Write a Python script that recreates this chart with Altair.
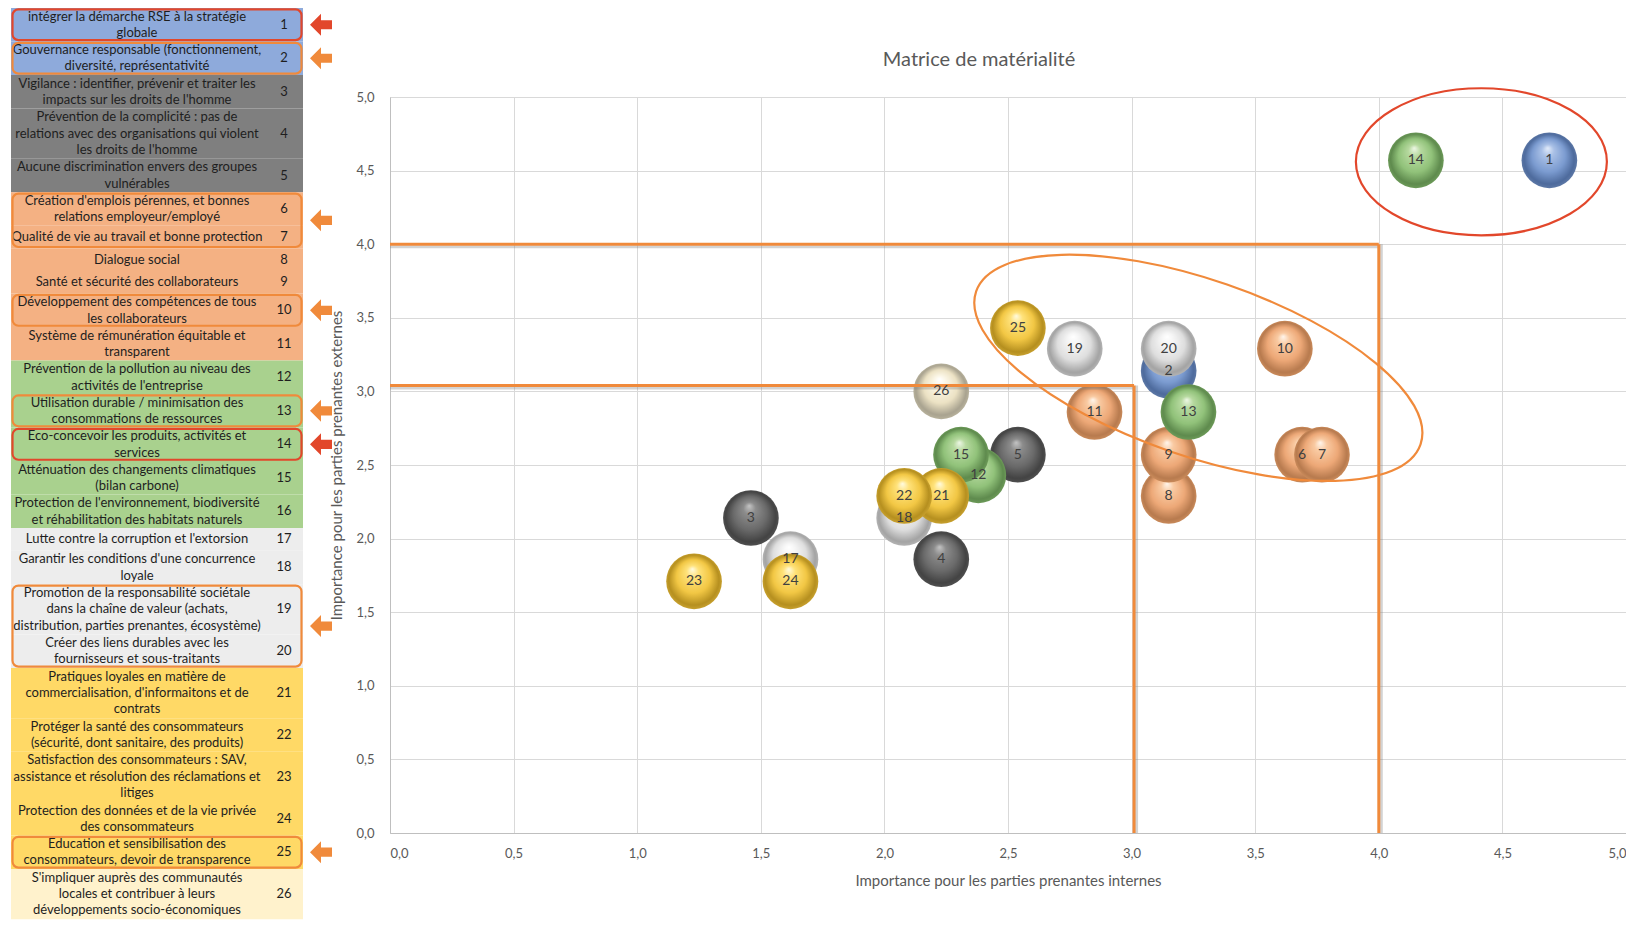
import altair as alt
import pandas as pd

# ------------------------------------------------------------------ data
issue_ids = list(range(1, 27))
issue_labels = [
    "intégrer la démarche RSE à la stratégie\nglobale",
    "Gouvernance responsable (fonctionnement,\ndiversité, représentativité",
    "Vigilance : identifier, prévenir et traiter les\nimpacts sur les droits de l'homme",
    "Prévention de la complicité : pas de\nrelations avec des organisations qui violent\nles droits de l'homme",
    "Aucune discrimination envers des groupes\nvulnérables",
    "Création d'emplois pérennes, et bonnes\nrelations employeur/employé",
    "Qualité de vie au travail et bonne protection",
    "Dialogue social",
    "Santé et sécurité des collaborateurs",
    "Développement des compétences de tous\nles collaborateurs",
    "Système de rémunération équitable et\ntransparent",
    "Prévention de la pollution au niveau des\nactivités de l'entreprise",
    "Utilisation durable / minimisation des\nconsommations de ressources",
    "Eco-concevoir les produits, activités et\nservices",
    "Atténuation des changements climatiques\n(bilan carbone)",
    "Protection de l'environnement, biodiversité\net réhabilitation des habitats naturels",
    "Lutte contre la corruption et l'extorsion",
    "Garantir les conditions d'une concurrence\nloyale",
    "Promotion de la responsabilité sociétale\ndans la chaîne de valeur (achats,\ndistribution, parties prenantes, écosystème)",
    "Créer des liens durables avec les\nfournisseurs et sous-traitants",
    "Pratiques loyales en matière de\ncommercialisation, d'informaitons et de\ncontrats",
    "Protéger la santé des consommateurs\n(sécurité, dont sanitaire, des produits)",
    "Satisfaction des consommateurs : SAV,\nassistance et résolution des réclamations et\nlitiges",
    "Protection des données et de la vie privée\ndes consommateurs",
    "Education et sensibilisation des\nconsommateurs, devoir de transparence",
    "S'impliquer auprès des communautés\nlocales et contribuer à leurs\ndéveloppements socio-économiques",
]
issue_groups = (["gouvernance"] * 2 + ["droits"] * 3 + ["social"] * 6 +
                ["environnement"] * 5 + ["loyaute"] * 4 + ["consommateurs"] * 5 +
                ["communautes"])

# plotted points (issue 16 is not visible on the matrix)
point_ids = [1, 2, 3, 4, 5, 6, 7, 8, 9, 10, 11, 12, 13, 14, 15,
             17, 18, 19, 20, 21, 22, 23, 24, 25, 26]
internal = [4.69, 3.15, 1.46, 2.23, 2.54, 3.69, 3.77, 3.15, 3.15, 3.62, 2.85, 2.38, 3.23, 4.15, 2.31,
            1.62, 2.08, 2.77, 3.15, 2.23, 2.08, 1.23, 1.62, 2.54, 2.23]
external = [4.57, 3.14, 2.14, 1.86, 2.57, 2.57, 2.57, 2.29, 2.57, 3.29, 2.86, 2.43, 2.86, 4.57, 2.57,
            1.86, 2.14, 3.29, 3.29, 2.29, 2.29, 1.71, 1.71, 3.43, 3.00]

threshold_x = [4.0, 3.01]
threshold_y = [4.0, 3.04]

highlight_rows = [[1], [2], [6, 7], [10], [13], [14], [19, 20], [25]]
highlight_level = ["top", "high", "high", "high", "high", "top", "high", "high"]

ellipse_cx = [4.415, 3.27]
ellipse_cy = [4.56, 3.16]
ellipse_level = ["top", "high"]

chart_title = "Matrice de matérialité"
x_title = "Importance pour les parties prenantes internes"
y_title = "Importance pour les parties prenantes externes"
tick_values = [0, 0.5, 1, 1.5, 2, 2.5, 3, 3.5, 4, 4.5, 5]

# ------------------------------------------------------------------ styles
FONT = "Lato"
GROUP_FILL = {"gouvernance": "#8eaadb", "droits": "#7f7f7f", "social": "#f4b183",
              "environnement": "#a9d18e", "loyaute": "#ededed",
              "consommateurs": "#ffd966", "communautes": "#fff2cc"}
SPHERE = {  # highlight, light, body, dark, edge
    "gouvernance": ("#e3ecfa", "#a9c0e6", "#7b9bd0", "#4d6a9c", "#5d78a6"),
    "droits": ("#c4c4c4", "#8c8c8c", "#6a6a6a", "#434343", "#4f4f4f"),
    "social": ("#fff6ec", "#f9caa2", "#eda877", "#b77a4e", "#c98a5a"),
    "environnement": ("#eef7e6", "#b6d99f", "#91c27a", "#5e8a4d", "#6c9a58"),
    "loyaute": ("#ffffff", "#f5f5f5", "#dedede", "#a3a3a3", "#b3b3b3"),
    "consommateurs": ("#fffbe0", "#ffe27a", "#f2c744", "#b58f1f", "#c7a02e"),
    "communautes": ("#ffffff", "#fbf6e6", "#ece2c4", "#a8a28f", "#b8b29c"),
}
LEVEL_COLOR = {"top": "#e2472b", "high": "#f08a3b"}
ORANGE = "#f08a3b"
W, H = 1236, 736
LINE = 16.75
TEXT_LH = 16.4
TABLE_TOP = -89
TABLE_LEFT = -379

# ------------------------------------------------------------------ table layout
rows = []
top = 0.0
for i, lab, g in zip(issue_ids, issue_labels, issue_groups):
    n = lab.count("\n") + 1
    h = n if n > 1 else 1.35
    yc = top + h / 2
    rows.append(dict(id=i, label=lab, group=g, fill=GROUP_FILL[g], y0=top, y1=top + h,
                     yc=yc, yt=yc - (n - 1) * TEXT_LH / 2 / LINE, x0=0, x1=292, xt=126, xn=273))
    top += h
total = top
tdf = pd.DataFrame(rows)

hl = []
for members, lvl in zip(highlight_rows, highlight_level):
    r0 = rows[members[0] - 1]
    r1 = rows[members[-1] - 1]
    hl.append(dict(y0=r0["y0"] + 0.08, y1=r1["y1"] - 0.08, yc=(r0["y0"] + r1["y1"]) / 2,
                   x0=1.5, x1=290.5, xa=310, col=LEVEL_COLOR[lvl]))
hdf = pd.DataFrame(hl)

tx_scale = alt.Scale(domain=[0, 330], range=[TABLE_LEFT, TABLE_LEFT + 330], nice=False, zero=False)
ty_scale = alt.Scale(domain=[0, total], range=[TABLE_TOP, TABLE_TOP + total * LINE], nice=False, zero=False)


def TX(f):
    return alt.X(f"{f}:Q", scale=tx_scale, axis=None)


def TY(f):
    return alt.Y(f"{f}:Q", scale=ty_scale, axis=None)


t_bg = alt.Chart(tdf).mark_rect(stroke=None).encode(
    x=TX("x0"), x2="x1", y=TY("y0"), y2="y1", color=alt.Color("fill:N", scale=None))
t_text = alt.Chart(tdf).mark_text(font=FONT, fontSize=13, color="#1e1e1e", lineBreak="\n",
                                  lineHeight=TEXT_LH, baseline="middle", align="center").encode(
    x=TX("xt"), y=TY("yt"), text="label:N")
t_num = alt.Chart(tdf).mark_text(font=FONT, fontSize=13, color="#1e1e1e", baseline="middle",
                                 align="center").encode(x=TX("xn"), y=TY("yc"), text="id:N")
t_box = alt.Chart(hdf).mark_rect(fillOpacity=0, strokeWidth=2.2, cornerRadius=6).encode(
    x=TX("x0"), x2="x1", y=TY("y0"), y2="y1", stroke=alt.Stroke("col:N", scale=None))
ARROW = "M -1 0 L 0 -1 L 0 -0.42 L 1 -0.42 L 1 0.42 L 0 0.42 L 0 1 Z"
t_arrow = alt.Chart(hdf).mark_point(shape=ARROW, filled=True, size=484, opacity=1, strokeWidth=0).encode(
    x=TX("xa"), y=TY("yc"), color=alt.Color("col:N", scale=None))

table = alt.layer(t_bg, t_text, t_num, t_box, t_arrow)

# ------------------------------------------------------------------ scatter
group_of = dict(zip(issue_ids, issue_groups))
pdf = pd.DataFrame(dict(id=point_ids, x=internal, y=external,
                        group=[group_of[i] for i in point_ids]))

LABEL_EXPR = "replace(format(datum.value, '.1f'), '.', ',')"
x_axis = alt.Axis(orient="bottom", values=tick_values, labelExpr=LABEL_EXPR, grid=True,
                  gridColor="#d9d9d9", domainColor="#bfbfbf", ticks=False, labelPadding=14,
                  labelFontSize=13, labelColor="#595959", labelFont=FONT,
                  titleFont=FONT, titleFontSize=15, titleColor="#595959", titleFontWeight="normal",
                  titlePadding=13)
y_axis = alt.Axis(orient="left", values=tick_values, labelExpr=LABEL_EXPR, grid=True,
                  gridColor="#d9d9d9", domainColor="#bfbfbf", ticks=False, labelPadding=16,
                  labelFontSize=13, labelColor="#595959", labelFont=FONT,
                  titleFont=FONT, titleFontSize=15, titleColor="#595959", titleFontWeight="normal",
                  titlePadding=11)
sx = alt.Scale(domain=[0, 5], nice=False, zero=False)
sy = alt.Scale(domain=[0, 5], nice=False, zero=False)


def X(f="x"):
    return alt.X(f"{f}:Q", scale=sx, axis=x_axis, title=x_title)


def Y(f="y"):
    return alt.Y(f"{f}:Q", scale=sy, axis=y_axis, title=y_title)


def sphere(g):
    hi, li, bo, da, ed = SPHERE[g]
    return {"gradient": "radial", "x1": 0.47, "y1": 0.28, "r1": 0.0,
            "x2": 0.5, "y2": 0.5, "r2": 0.5,
            "stops": [{"offset": 0.0, "color": hi}, {"offset": 0.22, "color": li},
                      {"offset": 0.6, "color": bo}, {"offset": 0.9, "color": da},
                      {"offset": 1.0, "color": ed}]}


grid_layer = alt.Chart(pdf).mark_point(opacity=0).encode(x=X(), y=Y())

bubble_layers = []
for g in ["gouvernance", "droits", "social", "environnement", "loyaute", "consommateurs", "communautes"]:
    bubble_layers.append(
        alt.Chart(pdf).transform_filter(alt.datum.group == g)
        .mark_circle(size=3100, opacity=1, color=sphere(g), stroke=None)
        .encode(x=X(), y=Y())
    )

hrules = pd.DataFrame(dict(x=[0.0] * len(threshold_x), x2=threshold_x, y=threshold_y))
vrules = pd.DataFrame(dict(x=threshold_x, y=[0.0] * len(threshold_y), y2=threshold_y))
h_shadow = alt.Chart(hrules).mark_rule(color="#808080", opacity=0.35, strokeWidth=3, yOffset=2.5).encode(
    x=X(), x2="x2", y=Y())
v_shadow = alt.Chart(vrules).mark_rule(color="#808080", opacity=0.35, strokeWidth=3, xOffset=2.5).encode(
    x=X(), y=Y(), y2="y2")
h_rule = alt.Chart(hrules).mark_rule(color=ORANGE, strokeWidth=3).encode(x=X(), x2="x2", y=Y())
v_rule = alt.Chart(vrules).mark_rule(color=ORANGE, strokeWidth=3).encode(x=X(), y=Y(), y2="y2")


def ellipse_path(b):
    k = 0.5523
    return (f"M 1 0 C 1 {b*k:.4f} {k} {b} 0 {b} C {-k} {b} -1 {b*k:.4f} -1 0 "
            f"C -1 {-b*k:.4f} {-k} {-b} 0 {-b} C {k} {-b} 1 {-b*k:.4f} 1 0 Z")


edf = pd.DataFrame(dict(x=ellipse_cx, y=ellipse_cy, level=ellipse_level))
e_top = alt.Chart(edf).transform_filter(alt.datum.level == "top").mark_point(
    shape=ellipse_path(0.586), size=251 ** 2, filled=False, strokeWidth=2.2,
    color=LEVEL_COLOR["top"], opacity=1).encode(x=X(), y=Y())
e_high = alt.Chart(edf).transform_filter(alt.datum.level == "high").mark_point(
    shape=ellipse_path(0.375), size=470 ** 2, angle=19, filled=False, strokeWidth=2.2,
    color=LEVEL_COLOR["high"], opacity=1).encode(x=X(), y=Y())

labels = alt.Chart(pdf).mark_text(font=FONT, fontSize=14, color="#404040", baseline="middle",
                                  align="center").encode(x=X(), y=Y(), text="id:N")

title_df = pd.DataFrame(dict(t=[chart_title]))
title = alt.Chart(title_df).mark_text(font=FONT, fontSize=20, color="#595959", align="center",
                                      baseline="middle").encode(
    x=alt.value(589), y=alt.value(-37), text="t:N")

scatter = alt.layer(grid_layer, *bubble_layers, h_shadow, v_shadow, h_rule, v_rule,
                    e_top, e_high, labels, title)

chart = alt.layer(table, scatter).resolve_scale(x="independent", y="independent").properties(
    width=W, height=H, padding={"left": 3, "top": 0, "right": 0, "bottom": 0}
).configure_view(stroke=None).configure(font=FONT)

chart.save("out.html", embed_options={"renderer": "svg", "actions": False})
